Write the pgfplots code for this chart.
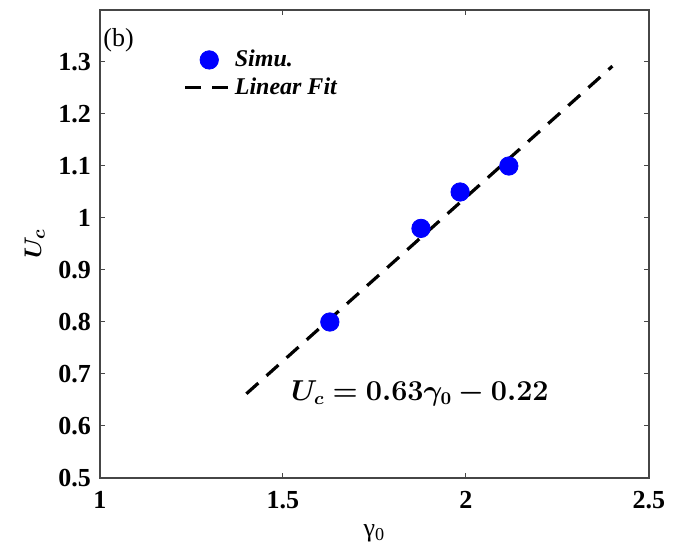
\documentclass[border=0pt]{standalone}
\usepackage{amsmath,bm}
\usepackage{fontspec}
\setmainfont{Liberation Serif}
\usepackage{pgfplots}
\pgfplotsset{compat=1.18}
\definecolor{MBlue}{RGB}{0,0,255}
\definecolor{AxGray}{RGB}{70,70,70}
\pgfplotsset{
    leglinefit/.style={legend image code/.code={\draw[##1] (0pt,0pt) -- (22pt,0pt);}},
    legmarkfit/.style={legend image code/.code={\draw[##1] plot coordinates {(12pt,0pt)};}},
}
\begin{document}
\begin{tikzpicture}
\begin{axis}[
    scale only axis,
    width=274.5pt, height=234pt,
    xmin=1, xmax=2.5, ymin=0.5, ymax=1.4,
    xtick={1,1.5,2,2.5},
    ytick={0.5,0.6,0.7,0.8,0.9,1,1.1,1.2,1.3},
    axis line style={AxGray, line width=0.6pt},
    tick style={AxGray, line width=0.5pt},
    tick align=inside,
    major tick length=2.5pt,
    /pgf/number format/assume math mode=true,
    ticklabel style={font=\fontsize{13}{14}\selectfont\bfseries},
    xticklabel style={yshift=-3pt},
    yticklabel style={xshift=-1pt},
    xlabel={γ\textsubscript{0}},
    ylabel={$\bm{U_c}$},
    xlabel style={font=\fontsize{13}{13}\selectfont, yshift=-1pt},
    ylabel style={font=\fontsize{13}{13}\selectfont, yshift=0pt},
    legend style={draw=none, fill=none, at={(0.148,0.928)}, anchor=north west,
        font=\fontsize{12}{13}\selectfont\bfseries\itshape, row sep=0pt,
        inner sep=1pt},
    legend cell align=left,
]
\addplot[only marks, mark=*, mark size=4.6pt, color=MBlue, mark options={fill=MBlue, draw=MBlue}, legmarkfit]
coordinates {(1.628,0.80) (1.877,0.98) (1.984,1.05) (2.117,1.10)};
\addlegendentry{Simu.}
\addplot[black, line width=1.6pt, dash pattern=on 8pt off 5.5pt, leglinefit]
coordinates {(1.4,0.662) (2.4,1.292)};
\addlegendentry{Linear Fit}
\node[anchor=west, font=\fontsize{13}{14}\selectfont, inner sep=1pt] at (rel axis cs:0.002,0.935) {(b)};
\node[font=\fontsize{13.5}{16}\selectfont] at (axis cs:1.874,0.663) {$\bm{U_c = 0.63\gamma_0 - 0.22}$};
\end{axis}
\path ([shift={(-50pt,-34.5pt)}]current axis.south west) rectangle ([shift={(13pt,5pt)}]current axis.north east);
\end{tikzpicture}
\end{document}
